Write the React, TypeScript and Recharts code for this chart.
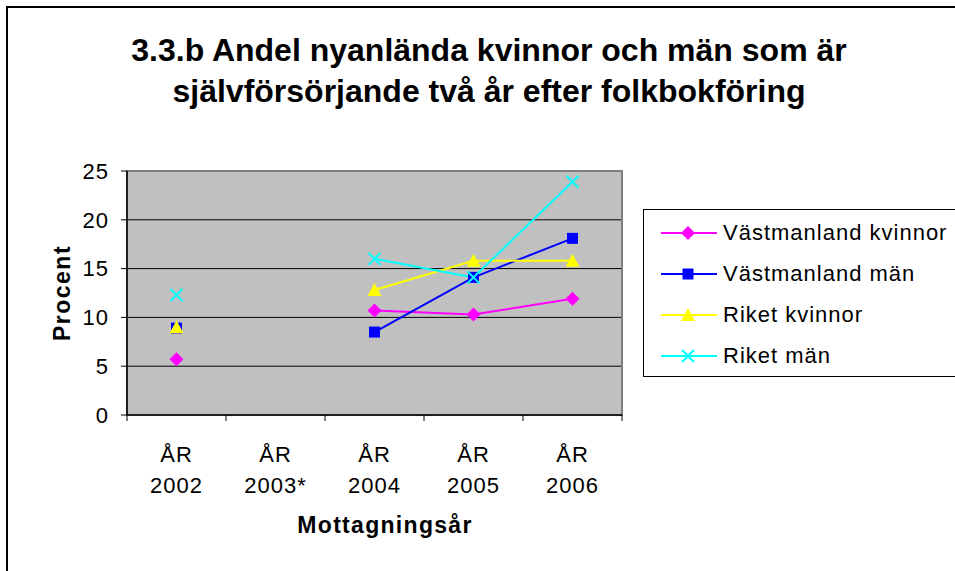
import React from 'react'
import { LineChart, Line, XAxis, YAxis, CartesianGrid, ReferenceArea } from 'recharts'

const yearPrefix = 'ÅR'
const years = ['2002', '2003*', '2004', '2005', '2006']
const vmlKvinnor = [5.7, null, 10.7, 10.3, 11.9]
const vmlMan = [8.9, null, 8.5, 14.1, 18.1]
const riketKvinnor = [9.0, null, 12.8, 15.8, 15.8]
const riketMan = [12.3, null, 16.0, 14.1, 23.9]
const yTicks = [0, 5, 10, 15, 20, 25]
const xTicks = [-0.5, 0, 0.5, 1, 1.5, 2, 2.5, 3, 3.5, 4, 4.5]

const data = years.map((year, i) => ({
  idx: i,
  year,
  vk: vmlKvinnor[i],
  vm: vmlMan[i],
  rk: riketKvinnor[i],
  rm: riketMan[i],
}))

const FONT = '"Liberation Sans", Arial, sans-serif'

type Shape = 'diamond' | 'square' | 'triangle' | 'cross'

const series: { key: string; name: string; color: string; shape: Shape }[] = [
  { key: 'vk', name: 'Västmanland kvinnor', color: '#FF00FF', shape: 'diamond' },
  { key: 'vm', name: 'Västmanland män', color: '#0000FF', shape: 'square' },
  { key: 'rk', name: 'Riket kvinnor', color: '#FFFF00', shape: 'triangle' },
  { key: 'rm', name: 'Riket män', color: '#00FFFF', shape: 'cross' },
]

const marker = (shape: Shape, color: string, cx: number, cy: number) => {
  if (shape === 'diamond') {
    return <path d={`M${cx},${cy - 7}L${cx + 7},${cy}L${cx},${cy + 7}L${cx - 7},${cy}Z`} fill={color} />
  }
  if (shape === 'square') {
    return <rect x={cx - 5.5} y={cy - 5.5} width={11} height={11} fill={color} />
  }
  if (shape === 'triangle') {
    return <path d={`M${cx},${cy - 7}L${cx + 7},${cy + 6}L${cx - 7},${cy + 6}Z`} fill={color} />
  }
  return (
    <path
      d={`M${cx - 6},${cy - 6}L${cx + 6},${cy + 6}M${cx + 6},${cy - 6}L${cx - 6},${cy + 6}`}
      stroke={color}
      strokeWidth={2}
      fill="none"
    />
  )
}

const makeDot = (shape: Shape, color: string) => (props: any) => {
  const { cx, cy, value, index } = props
  if (cx == null || cy == null || value == null) return <g key={`e-${index}`} />
  return <g key={`d-${index}`}>{marker(shape, color, cx, cy)}</g>
}

const XTick = (props: any) => {
  const { x, y, payload } = props
  const v = payload.value
  if (Number.isInteger(v)) {
    return (
      <text x={x} y={y} textAnchor="middle" fontSize={22} letterSpacing={1} fontFamily={FONT} fill="#000">
        <tspan x={x} dy={47}>{yearPrefix}</tspan>
        <tspan x={x} dy={31}>{years[v]}</tspan>
      </text>
    )
  }
  return <line x1={x} x2={x} y1={y} y2={y + 6} stroke="#000" strokeWidth={1} />
}

const Legend = () => (
  <div
    style={{
      position: 'absolute',
      left: 643,
      top: 209,
      width: 330,
      height: 168,
      border: '1px solid #000',
      background: '#fff',
      paddingTop: 2,
      boxSizing: 'border-box',
    }}
  >
    {series.map((s) => (
      <div key={s.key} style={{ display: 'flex', alignItems: 'center', height: 41 }}>
        <svg width={56} height={20} style={{ marginLeft: 17 }}>
          <line x1={0} x2={56} y1={10} y2={10} stroke={s.color} strokeWidth={2} />
          {marker(s.shape, s.color, 27, 10)}
        </svg>
        <span style={{ marginLeft: 6, fontSize: 22, letterSpacing: 1, fontFamily: FONT, color: '#000' }}>
          {s.name}
        </span>
      </div>
    ))}
  </div>
)

export default function App() {
  return (
    <div
      style={{
        position: 'absolute',
        left: 0,
        top: 0,
        width: 955,
        height: 571,
        overflow: 'hidden',
        background: '#fff',
        fontFamily: FONT,
      }}
    >
      <div
        style={{
          position: 'absolute',
          left: 6,
          top: 6,
          width: 1000,
          height: 600,
          border: '2px solid #000',
        }}
      />
      <div
        style={{
          position: 'absolute',
          left: 39,
          top: 30,
          width: 900,
          textAlign: 'center',
          fontSize: 32,
          fontWeight: 'bold',
          lineHeight: '41px',
          color: '#000',
        }}
      >
        3.3.b Andel nyanlända kvinnor och män som är
        <br />
        självförsörjande två år efter folkbokföring
      </div>
      <div style={{ position: 'absolute', left: 0, top: 0 }}>
        <LineChart
          width={955}
          height={571}
          data={data}
          margin={{ top: 171, right: 333, bottom: 116, left: 67 }}
        >
          <CartesianGrid vertical={false} stroke="#000" fill="#C0C0C0" fillOpacity={1} />
          <ReferenceArea x1={-0.5} x2={4.5} y1={0} y2={25} fill="none" stroke="#808080" strokeWidth={2} />
          <XAxis
            dataKey="idx"
            type="number"
            domain={[-0.5, 4.5]}
            ticks={xTicks}
            interval={0}
            allowDecimals
            tickLine={false}
            tickSize={0}
            tickMargin={0}
            tick={<XTick />}
            axisLine={{ stroke: '#000', strokeWidth: 1.5 }}
            height={40}
          />
          <YAxis
            type="number"
            domain={[0, 25]}
            ticks={yTicks}
            interval={0}
            width={60}
            tickSize={6}
            tickMargin={12}
            tick={{ fontSize: 22, letterSpacing: 1, fill: '#000', fontFamily: FONT }}
            tickLine={{ stroke: '#000' }}
            axisLine={{ stroke: '#000', strokeWidth: 1.5 }}
          />
          {series.map((s) => (
            <Line
              key={s.key}
              dataKey={s.key}
              name={s.name}
              type="linear"
              stroke={s.color}
              strokeWidth={2}
              dot={makeDot(s.shape, s.color)}
              activeDot={false}
              isAnimationActive={false}
            />
          ))}
        </LineChart>
      </div>
      <div
        style={{
          position: 'absolute',
          left: 62,
          top: 293,
          transform: 'translate(-50%, -50%) rotate(-90deg)',
          fontSize: 23,
          letterSpacing: 1.5,
          fontWeight: 'bold',
          whiteSpace: 'nowrap',
          color: '#000',
        }}
      >
        Procent
      </div>
      <div
        style={{
          position: 'absolute',
          left: 135,
          top: 512,
          width: 500,
          textAlign: 'center',
          fontSize: 23,
          letterSpacing: 1.3,
          fontWeight: 'bold',
          color: '#000',
        }}
      >
        Mottagningsår
      </div>
      <Legend />
    </div>
  )
}
